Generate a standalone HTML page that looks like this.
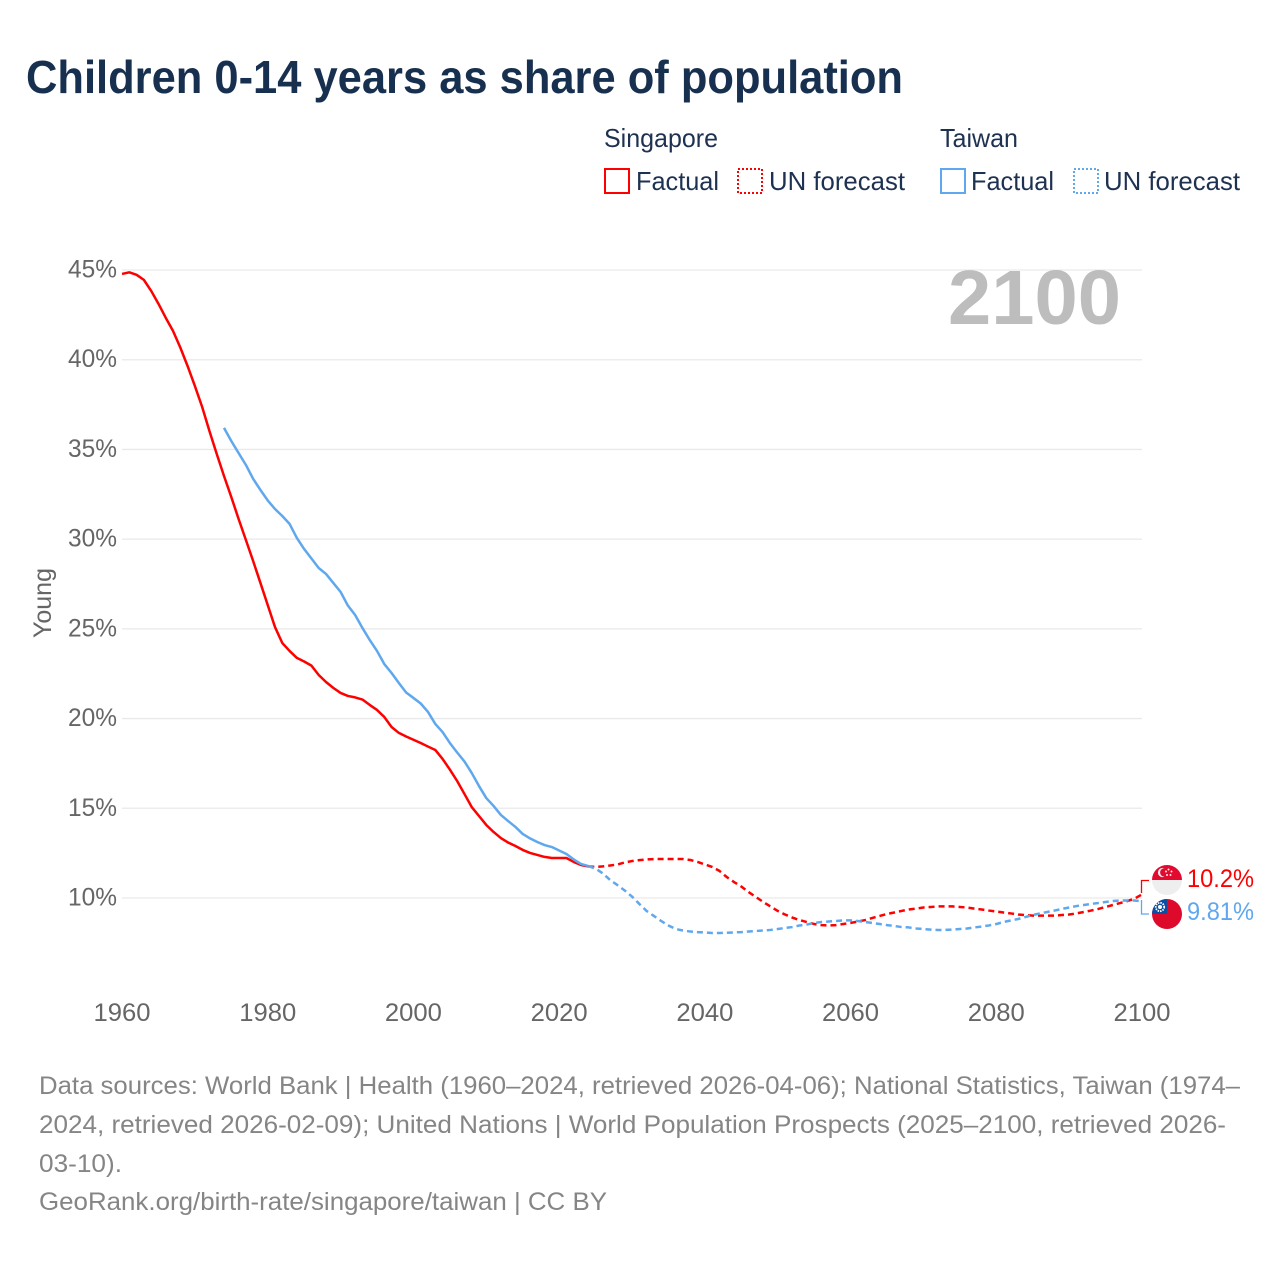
<!DOCTYPE html>
<html lang="en">
<head>
<meta charset="utf-8">
<title>Children 0-14 years as share of population</title>
<style>
html,body{margin:0;padding:0;background:#fff;}
svg{display:block;}
text{font-family:"Liberation Sans",sans-serif;}
</style>
</head>
<body>
<svg id="chart" xmlns="http://www.w3.org/2000/svg" width="1280" height="1280" viewBox="0 0 1280 1280">
  <rect x="0" y="0" width="1280" height="1280" fill="#fff"/>
  <text x="26" y="93" font-size="46" font-weight="700" fill="#18304f" textLength="877" lengthAdjust="spacingAndGlyphs">Children 0-14 years as share of population</text>

  <g font-size="26" fill="#1d3150">
    <text x="604" y="147" textLength="114" lengthAdjust="spacingAndGlyphs">Singapore</text>
    <rect x="605" y="169" width="24" height="24" fill="none" stroke="#ff0000" stroke-width="2"/>
    <text x="636" y="190" textLength="83" lengthAdjust="spacingAndGlyphs">Factual</text>
    <rect x="738" y="169" width="24" height="24" fill="none" stroke="#ff0000" stroke-width="2" stroke-dasharray="2 2"/>
    <text x="769" y="190" textLength="136" lengthAdjust="spacingAndGlyphs">UN forecast</text>
    <text x="940" y="147" textLength="78" lengthAdjust="spacingAndGlyphs">Taiwan</text>
    <rect x="941" y="169" width="24" height="24" fill="none" stroke="#5fa8ee" stroke-width="2"/>
    <text x="971" y="190" textLength="83" lengthAdjust="spacingAndGlyphs">Factual</text>
    <rect x="1074" y="169" width="24" height="24" fill="none" stroke="#5fa8ee" stroke-width="2" stroke-dasharray="2 2"/>
    <text x="1104" y="190" textLength="136" lengthAdjust="spacingAndGlyphs">UN forecast</text>
  </g>

  <g id="grid"></g>
  <g id="yticks"></g>
  <g id="xticks"></g>
  <text transform="translate(51,603) rotate(-90)" text-anchor="middle" font-size="25" fill="#666" textLength="70" lengthAdjust="spacingAndGlyphs">Young</text>
  <text x="948" y="324" font-size="77" font-weight="700" fill="#bdbdbd" textLength="173" lengthAdjust="spacingAndGlyphs">2100</text>

  <g id="series"></g>

  <g>
    <path d="M1141.5 893V880.5H1149" fill="none" stroke="#ff0000" stroke-width="1.3"/>
    <path d="M1141.5 900V914H1149" fill="none" stroke="#5fa8ee" stroke-width="1.3"/>
    <g>
      <circle cx="1167" cy="880" r="15" fill="#eeeeee"/>
      <path d="M1152 880A15 15 0 0 1 1182 880Z" fill="#e30a2f"/>
      <circle cx="1162.5" cy="872.5" r="4.6" fill="#eeeeee"/>
      <circle cx="1164.3" cy="872.5" r="4.2" fill="#e30a2f"/>
      <circle cx="1168.5" cy="869.5" r="1" fill="#eeeeee"/>
      <circle cx="1171.5" cy="871.5" r="1" fill="#eeeeee"/>
      <circle cx="1170.5" cy="875" r="1" fill="#eeeeee"/>
      <circle cx="1167" cy="875" r="1" fill="#eeeeee"/>
      <circle cx="1166" cy="871.5" r="1" fill="#eeeeee"/>
    </g>
    <g>
      <circle cx="1167" cy="914" r="15" fill="#dd0a2c"/>
      <path d="M1152 914A15 15 0 0 1 1167 899V914Z" fill="#0b4ea2"/>
      <circle cx="1160" cy="907" r="4.2" fill="none" stroke="#fff" stroke-width="1.8" stroke-dasharray="1.5 1"/>
      <circle cx="1160" cy="907" r="2" fill="#fff"/>
    </g>
    <text x="1187" y="887" font-size="25" fill="#ff0000" textLength="67" lengthAdjust="spacingAndGlyphs">10.2%</text>
    <text x="1187" y="920" font-size="25" fill="#5fa8ee" textLength="67" lengthAdjust="spacingAndGlyphs">9.81%</text>
  </g>

  <g font-size="25" fill="#858585">
    <text x="39" y="1094" textLength="1201" lengthAdjust="spacingAndGlyphs">Data sources: World Bank | Health (1960–2024, retrieved 2026-04-06); National Statistics, Taiwan (1974–</text>
    <text x="39" y="1133" textLength="1187" lengthAdjust="spacingAndGlyphs">2024, retrieved 2026-02-09); United Nations | World Population Prospects (2025–2100, retrieved 2026-</text>
    <text x="39" y="1172" textLength="83" lengthAdjust="spacingAndGlyphs">03-10).</text>
    <text x="39" y="1210" textLength="568" lengthAdjust="spacingAndGlyphs">GeoRank.org/birth-rate/singapore/taiwan | CC BY</text>
  </g>
</svg>
<script>
const xTickLabels = [1960, 1980, 2000, 2020, 2040, 2060, 2080, 2100];
const yTickLabels = [10, 15, 20, 25, 30, 35, 40, 45];

const singaporeFactualStart = 1960;
const singaporeFactual = [
  44.78,44.87,44.73,44.45,43.84,43.12,42.34,41.61,40.68,39.65,
  38.54,37.37,36.03,34.75,33.52,32.35,31.13,29.96,28.78,27.56,
  26.33,25.1,24.21,23.77,23.38,23.18,22.95,22.43,22.04,21.71,
  21.43,21.26,21.18,21.06,20.76,20.48,20.09,19.53,19.2,19.0,
  18.82,18.64,18.44,18.25,17.75,17.16,16.52,15.8,15.07,14.57,
  14.07,13.68,13.34,13.09,12.9,12.68,12.51,12.4,12.29,12.23,
  12.23,12.23,12.01,11.84,11.76
];
const singaporeForecastStart = 2024;
const singaporeForecast = [
  11.76,
  11.73,11.76,11.81,11.87,11.98,12.06,
  12.11,12.15,12.17,12.17,12.17,12.17,12.17,12.12,12.01,11.87,
  11.73,11.51,11.17,10.89,10.64,10.33,10.06,9.78,9.53,9.28,
  9.08,8.91,8.77,8.66,8.55,8.49,8.47,8.49,8.55,8.61,
  8.69,8.77,8.89,9.0,9.11,9.19,9.28,9.36,9.41,9.47,
  9.5,9.53,9.53,9.53,9.5,9.47,9.41,9.36,9.3,9.25,
  9.19,9.14,9.08,9.05,9.02,9.02,9.02,9.02,9.05,9.08,
  9.14,9.22,9.3,9.39,9.5,9.61,9.72,9.83,9.97,10.2
];
const taiwanFactualStart = 1974;
const taiwanFactual = [
  36.2,35.47,34.8,34.14,33.36,32.74,
  32.16,31.68,31.29,30.85,30.07,29.45,28.92,28.39,28.06,27.56,
  27.06,26.3,25.77,25.05,24.38,23.77,23.04,22.54,21.98,21.45,
  21.15,20.84,20.37,19.7,19.25,18.64,18.11,17.61,16.97,16.24,
  15.57,15.13,14.63,14.29,13.96,13.57,13.32,13.12,12.95,12.84,
  12.65,12.45,12.15,11.9,11.78
];
const taiwanForecastStart = 2024;
const taiwanForecast = [
  11.78,
  11.64,11.37,11.0,10.72,10.42,10.08,
  9.67,9.28,9.0,8.72,8.47,8.27,8.19,8.13,8.1,8.08,
  8.05,8.05,8.06,8.08,8.1,8.13,8.16,8.19,8.22,8.27,
  8.33,8.38,8.47,8.52,8.61,8.66,8.69,8.72,8.75,8.75,
  8.72,8.66,8.61,8.55,8.49,8.44,8.38,8.36,8.3,8.27,
  8.24,8.22,8.22,8.24,8.27,8.3,8.36,8.41,8.47,8.55,
  8.66,8.75,8.83,8.94,9.05,9.14,9.22,9.3,9.39,9.47,
  9.55,9.61,9.67,9.72,9.78,9.83,9.86,9.86,9.86,9.81
];

const SVG_NS = 'http://www.w3.org/2000/svg';
function xScale(year) { return 122 + (year - 1960) * (1142 - 122) / (2100 - 1960); }
function yScale(value) { return 898 - (value - 10) * (898 - 270) / (45 - 10); }
function linePath(startYear, values) {
  return values.map(function (v, i) {
    return (i ? 'L' : 'M') + xScale(startYear + i).toFixed(2) + ' ' + yScale(v).toFixed(2);
  }).join('');
}

const gridGroup = document.getElementById('grid');
const yTickGroup = document.getElementById('yticks');
yTickLabels.forEach(function (tick) {
  const rule = document.createElementNS(SVG_NS, 'line');
  
  
  rule.setAttribute('x1', xScale(1960));
  rule.setAttribute('x2', xScale(2100));
  rule.setAttribute('y1', yScale(tick));
  rule.setAttribute('y2', yScale(tick));
  rule.setAttribute('stroke', '#e9e9e9');
  rule.setAttribute('stroke-width', '1.3');
  gridGroup.appendChild(rule);

  const label = document.createElementNS(SVG_NS, 'text');
  
  
  label.setAttribute('x', '117');
  label.setAttribute('y', yScale(tick) + 7.5);
  label.setAttribute('text-anchor', 'end');
  label.setAttribute('font-size', '25');
  label.setAttribute('fill', '#666');
  label.setAttribute('textLength', '49');
  label.setAttribute('lengthAdjust', 'spacingAndGlyphs');
  label.textContent = tick + '%';
  yTickGroup.appendChild(label);
});

const xTickGroup = document.getElementById('xticks');
xTickLabels.forEach(function (tick) {
  const label = document.createElementNS(SVG_NS, 'text');
  
  
  label.setAttribute('x', xScale(tick));
  label.setAttribute('y', '1021');
  label.setAttribute('text-anchor', 'middle');
  label.setAttribute('font-size', '25');
  label.setAttribute('fill', '#666');
  label.setAttribute('textLength', '57');
  label.setAttribute('lengthAdjust', 'spacingAndGlyphs');
  label.textContent = tick;
  xTickGroup.appendChild(label);
});

const seriesGroup = document.getElementById('series');
function addLine(name, startYear, values, colour, dash) {
  const path = document.createElementNS(SVG_NS, 'path');
  
  
  path.setAttribute('d', linePath(startYear, values));
  path.setAttribute('fill', 'none');
  path.setAttribute('stroke', colour);
  path.setAttribute('stroke-width', '2.5');
  path.setAttribute('stroke-linejoin', 'round');
  if (dash) path.setAttribute('stroke-dasharray', dash);
  seriesGroup.appendChild(path);
}
addLine('line-singapore-forecast', singaporeForecastStart, singaporeForecast, '#ff0000', '6 4');
addLine('line-taiwan-forecast', taiwanForecastStart, taiwanForecast, '#5fa8ee', '6 4');
addLine('line-singapore-factual', singaporeFactualStart, singaporeFactual, '#ff0000', '');
addLine('line-taiwan-factual', taiwanFactualStart, taiwanFactual, '#5fa8ee', '');
</script>
</body>
</html>
